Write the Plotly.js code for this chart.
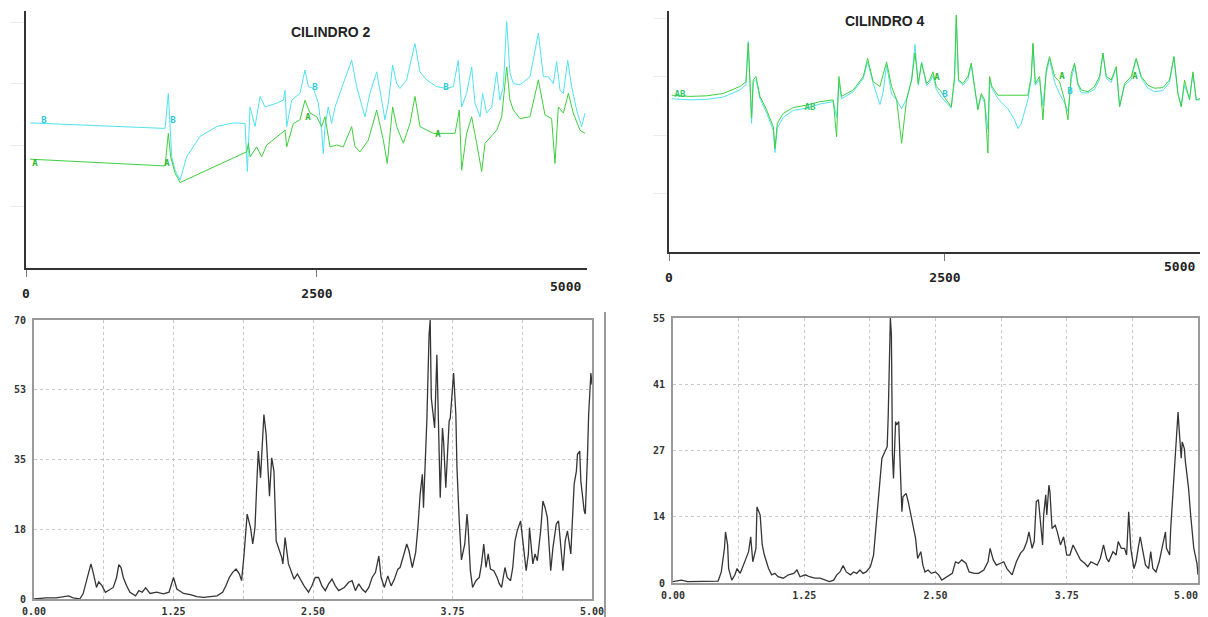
<!DOCTYPE html>
<html><head><meta charset="utf-8">
<script src="https://cdn.plot.ly/plotly-3.0.1.min.js"></script>
<style>html,body{margin:0;padding:0;background:#fff}#chart{width:1208px;height:617px}</style>
</head><body><div id="chart"></div><script>
// ---- CILINDRO 2 (top-left) ----
const c2B_rpm = [35,1195,1223,1252,1281,1324,1381,1495,1639,1782,1882,1902,1925,1968,2011,2054,2154,2211,2226,2240,2283,2354,2397,2426,2469,2512,2540,2554,2569,2597,2626,2655,2726,2798,2841,2912,2955,3013,3056,3084,3113,3150,3185,3213,3270,3342,3385,3442,3528,3614,3671,3714,3743,3786,3829,3858,3901,3923,3958,4001,4044,4072,4101,4130,4158,4187,4244,4330,4402,4445,4488,4531,4559,4588,4617,4654,4688,4731,4774,4803];
const c2B_val = [2.36,2.27,2.84,1.81,1.59,1.43,1.81,2.14,2.30,2.36,2.35,1.57,2.62,2.30,2.79,2.62,2.68,2.73,2.89,2.30,2.73,2.84,3.22,2.95,2.92,2.68,2.24,1.86,2.30,2.62,2.35,2.62,3.00,3.38,2.95,2.46,2.84,3.19,2.73,2.41,2.68,3.30,3.00,2.92,3.06,3.65,3.19,3.06,2.95,2.92,2.95,3.38,2.62,2.84,3.27,2.68,2.46,2.84,2.52,2.62,3.19,2.73,2.95,4.01,3.17,3.00,2.98,3.11,3.82,3.11,3.11,3.00,3.36,2.89,2.84,3.38,2.95,2.57,2.30,2.52];
const c2A_rpm = [35,1195,1223,1243,1281,1324,1495,1896,1911,1925,1982,2025,2068,2226,2240,2297,2354,2397,2440,2497,2540,2569,2612,2669,2726,2798,2827,2870,2941,3013,3070,3104,3150,3185,3242,3299,3342,3385,3500,3614,3686,3723,3743,3786,3829,3872,3915,3944,4001,4044,4087,4130,4158,4187,4244,4330,4402,4459,4516,4545,4574,4617,4660,4702,4760,4803];
const c2A_val = [1.77,1.66,2.19,1.81,1.54,1.39,1.54,1.89,2.03,1.81,1.97,1.81,2.00,2.24,1.97,2.35,2.41,2.73,2.52,2.46,2.30,2.46,1.97,2.00,1.97,2.30,1.97,1.89,2.08,2.57,2.08,1.70,2.62,2.30,2.03,2.35,2.79,2.30,2.19,2.19,2.19,2.57,1.59,2.19,2.46,2.03,1.57,2.03,2.14,2.24,2.46,3.27,2.73,2.57,2.43,2.46,3.06,2.49,2.43,1.70,2.62,2.52,2.84,2.52,2.24,2.19];
const c2LabB_rpm = [155,1263,2483,3608];
const c2LabB_val = [2.40,2.40,2.93,2.93];
const c2LabA_rpm = [77,1211,2423,3540];
const c2LabA_val = [1.70,1.70,2.44,2.16];

// ---- CILINDRO 4 (top-right) ----
const c4A_rpm = [24,190,341,492,643,697,718,733,748,763,788,824,884,945,960,981,1035,1126,1247,1367,1488,1518,1539,1563,1669,1760,1799,1850,1911,1971,2016,2062,2107,2152,2198,2228,2258,2288,2333,2361,2391,2421,2466,2512,2557,2587,2602,2623,2663,2708,2738,2768,2798,2829,2859,2889,2904,2925,2980,3070,3161,3251,3281,3297,3318,3357,3387,3417,3447,3493,3538,3583,3614,3644,3674,3704,3734,3795,3855,3900,3931,3961,4006,4051,4082,4127,4187,4232,4278,4338,4398,4474,4534,4574,4610,4640,4670,4715,4746,4776,4821];
const c4A_val = [2.68,2.66,2.67,2.71,2.83,2.91,3.57,2.88,2.29,2.94,3.00,2.66,2.43,2.14,1.77,2.20,2.37,2.47,2.51,2.57,2.60,1.97,3.00,2.66,2.77,3.00,3.31,2.91,2.83,3.25,2.83,2.60,1.86,2.60,2.94,3.40,2.88,3.23,2.88,2.94,3.08,2.83,2.74,2.60,2.48,3.00,4.05,2.94,2.88,3.00,3.23,2.83,2.43,2.71,2.60,1.69,3.00,2.83,2.68,2.68,2.68,2.68,3.00,3.57,2.88,3.00,2.26,3.11,3.34,3.00,2.91,2.60,2.26,3.05,3.23,2.88,2.77,2.74,2.83,3.00,3.40,3.00,2.94,3.17,2.48,2.88,3.00,3.31,3.00,2.85,2.80,2.81,2.94,3.34,2.71,2.48,2.94,2.60,3.08,2.60,2.63];
const c4B_rpm = [24,190,341,492,643,697,718,733,748,763,788,824,884,945,960,981,1035,1126,1247,1367,1488,1518,1539,1563,1669,1760,1799,1850,1911,1941,1971,2016,2062,2107,2152,2198,2228,2258,2288,2333,2361,2391,2421,2466,2512,2557,2587,2602,2623,2663,2708,2738,2768,2798,2829,2859,2889,2904,2925,2980,3070,3130,3161,3191,3251,3281,3297,3318,3357,3387,3417,3447,3493,3538,3583,3614,3644,3674,3704,3734,3795,3855,3900,3931,3961,4006,4051,4082,4127,4187,4232,4278,4338,4398,4474,4534,4574,4610,4640,4670,4715,4746,4776,4821];
const c4B_val = [2.62,2.60,2.61,2.65,2.77,2.86,3.60,2.94,2.20,2.90,2.95,2.62,2.38,2.08,1.70,2.12,2.30,2.42,2.46,2.53,2.57,2.30,2.90,2.62,2.74,2.97,3.25,2.88,2.52,2.75,3.20,2.70,2.60,2.45,2.62,2.95,3.55,2.85,3.25,2.85,2.90,3.02,2.78,2.65,2.55,2.46,2.95,4.00,2.92,2.85,2.95,3.20,2.80,2.45,2.68,2.55,2.10,2.95,2.80,2.62,2.45,2.26,2.11,2.20,2.60,2.95,3.55,2.85,2.95,2.50,3.05,3.30,2.90,2.70,2.55,2.40,2.95,3.20,2.85,2.72,2.72,2.78,2.95,3.40,2.97,2.90,3.15,2.50,2.85,2.95,3.30,2.97,2.80,2.74,2.76,2.90,3.34,2.70,2.50,2.85,2.62,3.05,2.60,2.60];
const c4LabAB_rpm = [99,1277];
const c4LabAB_val = [2.68,2.46];
const c4LabA_rpm = [2428,3560,4221];
const c4LabA_val = [2.98,3.00,3.00];
const c4LabB_rpm = [2500,3632];
const c4LabB_val = [2.68,2.74];

// ---- Spectrum cylinder 2 (bottom-left) ----
const s2Freq = [0.00,0.11,0.20,0.31,0.35,0.41,0.44,0.47,0.51,0.53,0.56,0.58,0.61,0.64,0.68,0.71,0.74,0.76,0.78,0.80,0.83,0.86,0.91,0.94,0.97,1.00,1.04,1.10,1.16,1.21,1.25,1.28,1.34,1.40,1.46,1.52,1.58,1.64,1.69,1.72,1.75,1.78,1.81,1.84,1.86,1.88,1.91,1.94,1.96,1.98,2.00,2.01,2.03,2.04,2.06,2.08,2.10,2.11,2.13,2.15,2.17,2.19,2.22,2.23,2.25,2.28,2.30,2.33,2.36,2.39,2.42,2.46,2.49,2.52,2.55,2.58,2.61,2.64,2.67,2.70,2.73,2.78,2.82,2.85,2.88,2.91,2.94,2.97,3.00,3.03,3.06,3.09,3.11,3.14,3.17,3.20,3.23,3.26,3.28,3.31,3.34,3.36,3.39,3.42,3.44,3.46,3.48,3.49,3.51,3.52,3.54,3.55,3.56,3.59,3.61,3.62,3.64,3.66,3.67,3.69,3.70,3.72,3.73,3.76,3.78,3.79,3.81,3.83,3.86,3.88,3.89,3.91,3.93,3.96,3.99,4.01,4.03,4.05,4.07,4.09,4.12,4.15,4.17,4.19,4.22,4.24,4.27,4.29,4.31,4.33,4.36,4.39,4.41,4.43,4.44,4.47,4.49,4.51,4.54,4.56,4.58,4.60,4.63,4.65,4.68,4.70,4.72,4.74,4.76,4.78,4.81,4.83,4.84,4.86,4.87,4.89,4.90,4.93,4.94,4.96,4.97,4.99,5.00];
const s2Amp = [0,0.3,0.3,0.8,0.3,0,1.3,4.6,8.8,6.7,2.9,4.3,3.3,1.7,2.5,2.9,5.4,8.6,7.9,5.4,3.3,1.7,0.8,2.1,1.7,2.8,1.4,1.7,1.3,1.7,5.4,2.5,1.4,1.1,0.6,0.4,0.6,0.8,1.7,3.3,5.4,6.7,7.5,6.3,4.6,10.4,21.3,17.9,13.8,17.9,31.3,37.1,30.4,36.3,46.3,41.3,29.6,25.8,35.4,32.1,14.6,12.9,10.4,8.8,15.4,8.8,7.1,5.0,6.3,4.6,3.3,1.7,3.3,5.4,5.4,3.3,2.1,3.8,5.0,3.3,2.1,2.9,4.2,4.6,2.1,3.8,2.5,1.7,2.9,5.4,6.7,10.8,5.4,2.9,5.8,3.3,5.0,7.5,7.9,10.8,13.8,12.1,7.9,11.7,17.9,26.3,31.3,22.9,36.3,44.6,66.3,70,50.4,42.9,61.3,50.4,25.4,42.9,39.6,27.9,32.9,44.6,45.4,56.7,46.3,32.9,19.8,9.8,13.8,21.3,17.9,7.1,2.9,4.6,5.4,8.8,13.8,7.9,11.3,7.5,7.1,5.4,3.8,2.9,7.9,5.4,4.6,7.9,14.6,17.1,19.6,12.9,7.1,11.3,17.9,8.8,11.3,9.6,17.1,24.6,22.9,20.4,7.1,12.9,18.8,19.6,12.9,7.1,14.6,17.1,11.3,21.3,28.8,32.1,36.3,37.1,29.6,22.1,21.3,36.3,46.3,56.7,53.8];

// ---- Spectrum cylinder 4 (bottom-right) ----
const s4Freq = [0.00,0.08,0.14,0.27,0.43,0.46,0.49,0.50,0.52,0.53,0.56,0.59,0.61,0.64,0.66,0.69,0.72,0.74,0.76,0.79,0.80,0.83,0.85,0.87,0.91,0.94,0.97,1.00,1.05,1.10,1.15,1.18,1.21,1.26,1.30,1.35,1.40,1.45,1.49,1.53,1.56,1.59,1.62,1.65,1.69,1.72,1.75,1.78,1.81,1.84,1.88,1.91,1.94,1.97,1.99,2.02,2.04,2.05,2.06,2.07,2.08,2.09,2.10,2.12,2.13,2.15,2.16,2.18,2.19,2.22,2.24,2.26,2.28,2.31,2.33,2.36,2.38,2.40,2.43,2.46,2.50,2.53,2.56,2.61,2.66,2.69,2.72,2.75,2.79,2.82,2.87,2.91,2.96,3.00,3.02,3.05,3.08,3.12,3.15,3.18,3.23,3.27,3.31,3.34,3.37,3.39,3.42,3.44,3.46,3.48,3.50,3.52,3.53,3.55,3.56,3.58,3.59,3.61,3.64,3.66,3.69,3.72,3.75,3.78,3.81,3.85,3.88,3.92,3.95,3.98,4.01,4.04,4.07,4.10,4.13,4.15,4.19,4.22,4.24,4.27,4.30,4.32,4.34,4.36,4.39,4.41,4.43,4.45,4.47,4.50,4.53,4.55,4.57,4.60,4.63,4.66,4.69,4.70,4.73,4.74,4.76,4.79,4.81,4.82,4.84,4.85,4.87,4.88,4.91,4.93,4.96,4.99,5.00];
const s4Amp = [0.3,0.6,0.3,0.3,0.4,2.3,7.2,10.6,7.9,3.0,0.6,1.7,3.0,2.0,3.0,4.8,6.5,9.6,4.4,7.2,15.8,14.1,7.9,5.8,3.0,1.7,2.0,1.3,1.0,1.7,2.0,2.7,1.3,1.7,1.3,1.0,1.0,0.6,0.3,0.6,1.7,2.3,3.6,2.3,1.7,2.3,2.0,2.7,2.0,2.3,3.4,5.8,12.7,21.0,25.9,27.3,28.3,34.9,48.7,55,51.5,26.6,21.7,33.5,32.8,33.5,26.6,14.8,17.9,18.6,16.9,14.8,12.9,9.3,5.1,6.5,3.7,2.3,2.7,2.0,2.3,1.7,0.6,1.3,2.0,4.4,4.1,4.8,4.1,2.3,2.0,2.0,2.7,4.4,7.2,4.8,3.7,4.1,4.4,3.0,1.7,4.4,6.2,6.9,8.6,10.6,7.2,8.6,16.9,17.3,12.2,7.9,14.1,18.3,14.1,20.3,18.9,11.3,12.0,10.6,7.9,9.6,5.8,5.8,7.9,6.1,4.8,4.1,3.4,4.4,4.1,3.7,5.1,7.9,5.1,4.4,6.5,5.8,8.6,7.2,7.2,5.8,14.8,7.2,3.0,4.4,7.2,9.6,7.2,3.7,3.0,6.5,3.0,2.3,4.4,7.2,10.6,7.2,5.8,11.3,17.6,29.3,35.5,32.0,25.9,29.3,27.9,25.2,19.7,14.1,7.2,4.1,1.7];

// ---- tick labels ----
const rpmTicks = [0, 2500];
const rpmEndLabel = '5000';
const freqTicks = [0,0.625,1.25,1.875,2.5,3.125,3.75,4.375,5];
const freqTickText = ['0.00','','1.25','','2.50','','3.75','','5.00'];
const freqTickText4 = ['0.00','','1.25','','2.50','','3.75','',''];
const freqEndLabel = '5.00';
const amp2Ticks = [0,17.5,35,52.5,70];
const amp2TickText = ['0','18','35','53','70'];
const amp4Ticks = [0,13.75,27.5,41.25,55];
const amp4TickText = ['0','14','27','41','55'];
const titles = ['CILINDRO 2','CILINDRO 4'];

// ---- layout helpers (pixel -> paper) ----
const W = 1208, H = 617;
const px = v => v / W;
const py = v => 1 - v / H;

const CYAN = '#52e2ee', GREEN = '#3fcf3f', DARK = '#353535';
const axFont = {family: 'DejaVu Sans Mono, monospace', size: 13, color: '#222', weight: 'bold'};
const smFont = {family: 'DejaVu Sans Mono, monospace', size: 10, color: '#333', weight: 'bold'};

function topX(dom, range, anchor) {
  return {domain: dom, range: range, anchor: anchor, showline: true, linecolor: '#333', linewidth: 2,
    tickmode: 'array', tickvals: rpmTicks, ticktext: rpmTicks.map(String), ticks: 'outside', ticklen: 7,
    tickcolor: '#777', tickfont: axFont, ticklabelstandoff: 5, showgrid: false, zeroline: false, fixedrange: true};
}
function topY(dom, range, anchor) {
  return {domain: dom, range: range, anchor: anchor, showline: true, linecolor: '#333', linewidth: 2,
    tickmode: 'array', tickvals: [1,2,3,4], ticks: 'outside', ticklen: 14, tickcolor: '#ececec',
    showticklabels: false, showgrid: false, zeroline: false, fixedrange: true};
}
function botX(dom, anchor, tt) {
  return {domain: dom, range: [0, 5], anchor: anchor, showline: true, mirror: true, linecolor: '#9a9a9a', linewidth: 2,
    tickmode: 'array', tickvals: freqTicks, ticktext: tt, ticks: '', tickfont: smFont, ticklabelstandoff: 2,
    showgrid: true, gridcolor: '#c8c8c8', griddash: 'dot', gridwidth: 1, zeroline: false, fixedrange: true};
}
function botY(dom, range, tv, tt, anchor) {
  return {domain: dom, range: range, anchor: anchor, showline: true, mirror: true, linecolor: '#9a9a9a', linewidth: 2,
    tickmode: 'array', tickvals: tv, ticktext: tt, ticks: '', tickfont: smFont, ticklabelstandoff: 4,
    showgrid: true, gridcolor: '#c8c8c8', griddash: 'dot', gridwidth: 1, zeroline: false, fixedrange: true};
}

const lab = (x, y, t, c, xa, ya) => ({x: x, y: y, mode: 'text', text: x.map(() => t), xaxis: xa, yaxis: ya,
  textfont: {family: 'DejaVu Sans Mono, monospace', size: 9, color: c, weight: 'bold'}, hoverinfo: 'skip', cliponaxis: false});

const data = [
  {x: c2B_rpm, y: c2B_val, mode: 'lines', line: {color: CYAN, width: 1}, xaxis: 'x', yaxis: 'y', name: 'B'},
  {x: c2A_rpm, y: c2A_val, mode: 'lines', line: {color: GREEN, width: 1}, xaxis: 'x', yaxis: 'y', name: 'A'},
  lab(c2LabB_rpm, c2LabB_val, 'B', '#2cc8d8', 'x', 'y'),
  lab(c2LabA_rpm, c2LabA_val, 'A', '#2fb82f', 'x', 'y'),
  {x: c4B_rpm, y: c4B_val, mode: 'lines', line: {color: CYAN, width: 1}, xaxis: 'x2', yaxis: 'y2', name: 'B'},
  {x: c4A_rpm, y: c4A_val, mode: 'lines', line: {color: GREEN, width: 1}, xaxis: 'x2', yaxis: 'y2', name: 'A'},
  lab(c4LabAB_rpm, c4LabAB_val, 'AB', '#2fc86a', 'x2', 'y2'),
  lab(c4LabA_rpm, c4LabA_val, 'A', '#2fb82f', 'x2', 'y2'),
  lab(c4LabB_rpm, c4LabB_val, 'B', '#2cc8d8', 'x2', 'y2'),
  {x: s2Freq, y: s2Amp, mode: 'lines', line: {color: DARK, width: 1.3}, xaxis: 'x3', yaxis: 'y3', name: 'Cil 2'},
  {x: s4Freq, y: s4Amp, mode: 'lines', line: {color: DARK, width: 1.3}, xaxis: 'x4', yaxis: 'y4', name: 'Cil 4'}
];

const ann = (text, x, y, font) => ({text: text, xref: 'paper', yref: 'paper', x: px(x), y: py(y),
  xanchor: 'center', yanchor: 'middle', showarrow: false, font: font});
const titleFont = {family: 'Liberation Sans, Arial, sans-serif', size: 14, color: '#222', weight: 'bold'};

const layout = {
  width: W, height: H, margin: {l: 0, r: 0, t: 0, b: 0}, showlegend: false,
  paper_bgcolor: '#ffffff', plot_bgcolor: '#ffffff',
  xaxis: topX([px(26), px(587)], [0, 4820], 'y'),
  yaxis: topY([py(268), py(11)], [0, 4.18], 'x'),
  xaxis2: topX([px(669), px(1200)], [0, 4810], 'y2'),
  yaxis2: topY([py(252), py(11)], [0, 4.12], 'x2'),
  xaxis3: botX([px(34), px(592)], 'y3', freqTickText),
  yaxis3: botY([py(599), py(320)], [0, 70], amp2Ticks, amp2TickText, 'x3'),
  xaxis4: botX([px(673), px(1198)], 'y4', freqTickText4),
  yaxis4: botY([py(583), py(318)], [0, 55], amp4Ticks, amp4TickText, 'x4'),
  annotations: [
    ann(titles[0], 331, 32, titleFont),
    ann(titles[1], 885, 21, titleFont),
    ann(rpmEndLabel, 565, 287, axFont),
    ann(rpmEndLabel, 1179, 266, axFont),
    ann(freqEndLabel, 1186, 595, smFont)
  ],
  shapes: [
    {type: 'line', xref: 'paper', yref: 'paper', x0: px(605), x1: px(605), y0: 0, y1: py(312),
     line: {color: '#9a9a9a', width: 2}}
  ]
};

Plotly.newPlot('chart', data, layout, {staticPlot: true, displayModeBar: false});
</script></body></html>
